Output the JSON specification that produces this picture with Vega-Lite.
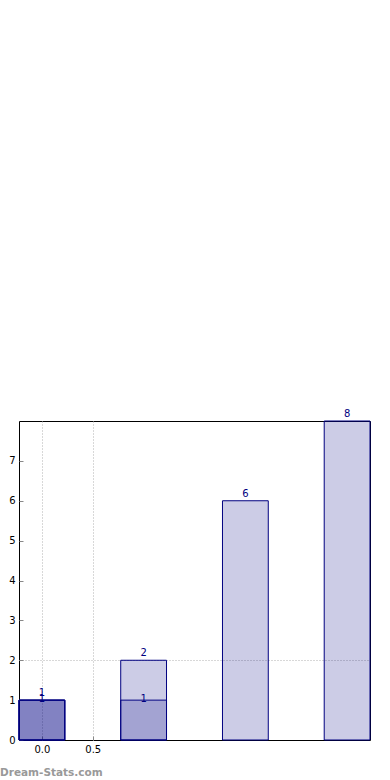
{
  "$schema": "https://vega.github.io/schema/vega-lite/v6.json",
  "autosize": {"type": "none"},
  "width": 351,
  "height": 319,
  "padding": {"left": 19, "top": 421, "right": 20, "bottom": 40},
  "background": "white",
  "config": {
    "view": {"stroke": "black", "strokeWidth": 1},
    "font": "DejaVu Sans"
  },
  "title": {
    "text": "Dream-Stats.com",
    "orient": "bottom",
    "anchor": "start",
    "frame": "group",
    "dx": -19,
    "offset": 14,
    "fontSize": 10.5,
    "fontWeight": "bold",
    "color": "#999999",
    "font": "DejaVu Sans"
  },
  "data": {
    "values": [
      {"series": "A", "x": 0, "y": 1},
      {"series": "A", "x": 1, "y": 2},
      {"series": "A", "x": 2, "y": 6},
      {"series": "A", "x": 3, "y": 8},
      {"series": "B", "x": 0, "y": 1},
      {"series": "B", "x": 1, "y": 1},
      {"series": "C", "x": 0, "y": 1}
    ]
  },
  "encoding": {
    "x": {
      "field": "x",
      "type": "quantitative",
      "scale": {"domain": [-0.225, 3.225], "nice": false, "zero": false, "padding": 0},
      "axis": {
        "values": [0, 0.5],
        "format": ".1f",
        "title": null,
        "grid": true,
        "gridDash": [1, 2],
        "gridColor": "#b0b0b0",
        "gridWidth": 1,
        "domain": false,
        "tickSize": -4,
        "tickColor": "#888888",
        "labelColor": "black",
        "labelFontSize": 10,
        "labelPadding": 8,
        "labelFont": "DejaVu Sans"
      }
    },
    "y": {
      "field": "y",
      "type": "quantitative",
      "stack": null,
      "scale": {"domain": [0, 8], "nice": false},
      "axis": {
        "values": [0, 1, 2, 3, 4, 5, 6, 7],
        "title": null,
        "grid": true,
        "gridDash": [1, 2],
        "gridColor": "#b0b0b0",
        "gridOpacity": {"condition": {"test": "datum.value === 2", "value": 1}, "value": 0},
        "domain": false,
        "tickSize": -4,
        "tickColor": "#888888",
        "labelColor": "black",
        "labelFontSize": 10,
        "labelPadding": 8,
        "labelFont": "DejaVu Sans"
      }
    }
  },
  "layer": [
    {
      "mark": {"type": "bar", "width": 45.8, "fill": "navy", "fillOpacity": 0.2, "stroke": "navy", "strokeWidth": 1},
      "encoding": {"detail": {"field": "series"}}
    },
    {
      "transform": [{"filter": "datum.series === 'A'"}],
      "mark": {"type": "text", "baseline": "alphabetic", "dy": -4, "fontSize": 10, "color": "navy", "font": "DejaVu Sans"},
      "encoding": {"text": {"field": "y", "type": "quantitative"}}
    },
    {
      "transform": [{"filter": "datum.series === 'B'"}],
      "mark": {"type": "text", "baseline": "middle", "dy": -1, "fontSize": 10, "color": "navy", "font": "DejaVu Sans"},
      "encoding": {"text": {"field": "y", "type": "quantitative"}}
    }
  ]
}
